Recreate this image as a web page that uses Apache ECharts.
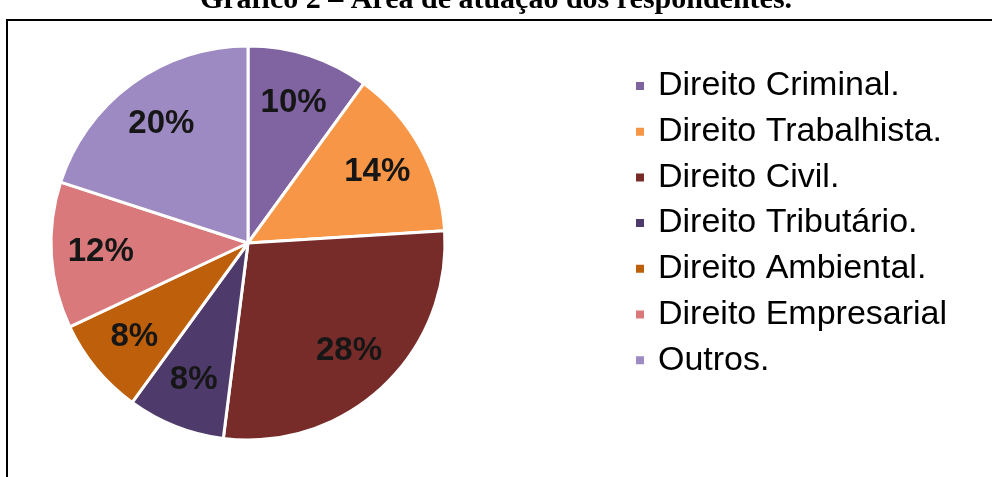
<!DOCTYPE html>
<html>
<head>
<meta charset="utf-8">
<script src="https://cdn.jsdelivr.net/npm/echarts@6/dist/echarts.min.js"></script>
<style>
html,body{margin:0;padding:0;background:#fff;}
#chart{width:992px;height:477px;}
</style>
</head>
<body>
<div id="chart"></div>
<script>
const categories = ["Direito Criminal.", "Direito Trabalhista.", "Direito Civil.", "Direito Tributário.", "Direito Ambiental.", "Direito Empresarial", "Outros."];
const values = [10, 14, 28, 8, 8, 12, 20];
const colors = ["#8064A2", "#F79646", "#772C2A", "#4F3B6B", "#BE5F0C", "#D9797B", "#9E8AC2"];
const titleText = "Gráfico 2 – Área de atuação dos respondentes.";

const data = categories.map((c, i) => ({ name: c, value: values[i], itemStyle: { color: colors[i] } }));

const chart = echarts.init(document.getElementById('chart'), null, { renderer: 'canvas' });
chart.setOption({
  animation: false,
  backgroundColor: '#ffffff',
  graphic: [
    {
      type: 'text', left: 'center', top: -15,
      style: { text: titleText, font: 'bold 30px "Liberation Serif", "Times New Roman", serif', fill: '#000' }
    },
    {
      type: 'polyline',
      shape: { points: [[7, 490], [7, 20], [995, 20]] },
      style: { stroke: '#000', lineWidth: 2, fill: null }
    }
  ],
  legend: {
    orient: 'vertical',
    left: 629,
    top: 64,
    itemWidth: 10,
    itemHeight: 10,
    itemGap: 11.7,
    icon: 'rect',
    data: categories,
    textStyle: {
      fontFamily: '"Liberation Sans", Arial, sans-serif',
      fontSize: 34,
      lineHeight: 34,
      color: '#000',
      padding: [0, 0, 0, 8]
    }
  },
  series: [
    {
      type: 'pie',
      center: [248, 243],
      radius: [0, 197],
      startAngle: 90,
      clockwise: true,
      data: data,
      label: { show: false },
      labelLine: { show: false },
      itemStyle: { borderColor: '#ffffff', borderWidth: 3 },
      emphasis: { disabled: true }
    },
    {
      type: 'pie',
      center: [248, 243],
      radius: [92, 197],
      startAngle: 90,
      clockwise: true,
      silent: true,
      data: categories.map((c, i) => ({ name: c, value: values[i] })),
      itemStyle: { color: 'rgba(0,0,0,0)' },
      label: {
        show: true,
        position: 'inside',
        formatter: p => p.value + '%',
        fontFamily: '"Liberation Sans", Arial, sans-serif',
        fontWeight: 'bold',
        fontSize: 33,
        color: '#161616'
      },
      labelLine: { show: false },
      emphasis: { disabled: true }
    }
  ]
});
</script>
</body>
</html>
